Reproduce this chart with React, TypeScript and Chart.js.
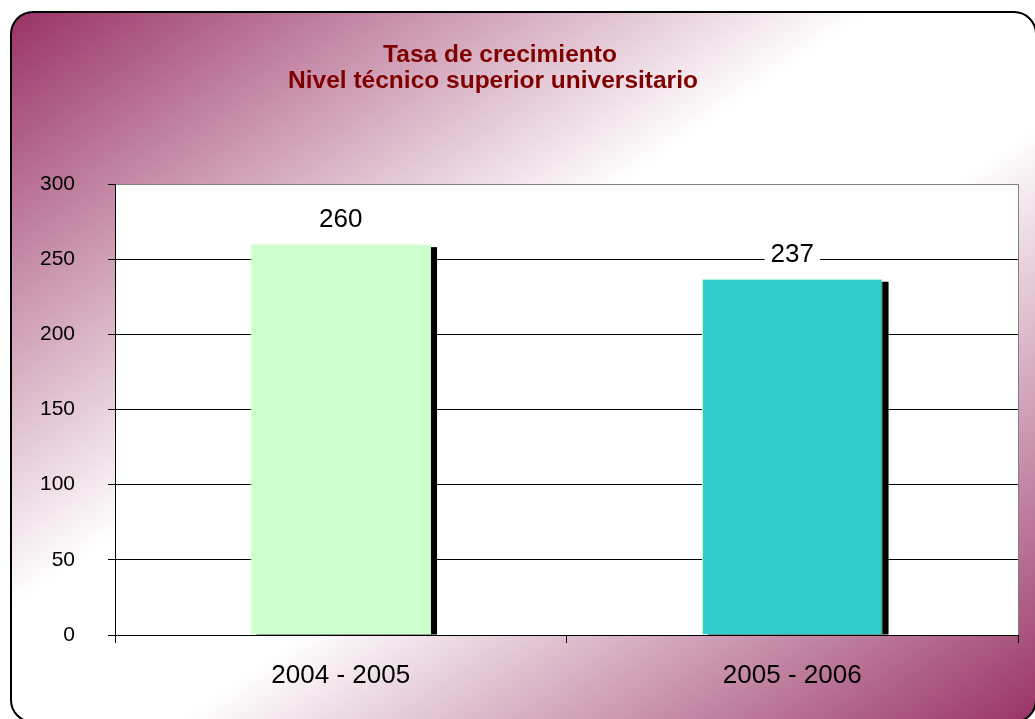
import React, { useEffect, useRef } from "react";
import { Chart, registerables } from "chart.js";

Chart.register(...registerables);

const categories = ["2004 - 2005", "2005 - 2006"];
const values = [260, 237];
const barColors = ["#CCFFCC", "#33CCCC"];
const barBorderColors = ["#CCFFCC", "#CCFFCC"];
const titleLines = ["Tasa de crecimiento", "Nivel técnico superior universitario"];
const yMin = 0;
const yMax = 300;
const yStep = 50;

const FONT = '"Liberation Sans", Arial, Helvetica, sans-serif';

const framePlugin = {
  id: "frame",
  beforeDraw(chart: any) {
    const { ctx, width, height, chartArea } = chart;
    ctx.save();
    ctx.fillStyle = "#ffffff";
    ctx.fillRect(0, 0, width, height);
    const x0 = 11, y0 = 12, x1 = 1036, y1 = 722, r = 22;
    const W = x1 - x0, H = y1 - y0;
    const k = 2 / (1 / (W * W) + 1 / (H * H));
    const g = ctx.createLinearGradient(x0, y0, x0 + k / W, y0 + k / H);
    g.addColorStop(0, "#993366");
    g.addColorStop(0.42, "#ffffff");
    g.addColorStop(0.58, "#ffffff");
    g.addColorStop(1, "#993366");
    ctx.beginPath();
    ctx.moveTo(x0 + r, y0);
    ctx.lineTo(x1 - r, y0);
    ctx.arcTo(x1, y0, x1, y0 + r, r);
    ctx.lineTo(x1, y1 - r);
    ctx.arcTo(x1, y1, x1 - r, y1, r);
    ctx.lineTo(x0 + r, y1);
    ctx.arcTo(x0, y1, x0, y1 - r, r);
    ctx.lineTo(x0, y0 + r);
    ctx.arcTo(x0, y0, x0 + r, y0, r);
    ctx.closePath();
    ctx.fillStyle = g;
    ctx.fill();
    ctx.lineWidth = 2;
    ctx.strokeStyle = "#000000";
    ctx.stroke();
    ctx.fillStyle = "#ffffff";
    ctx.fillRect(chartArea.left, chartArea.top, chartArea.right - chartArea.left, chartArea.bottom - chartArea.top);
    // title
    ctx.fillStyle = "#800000";
    ctx.font = `bold 24.5px ${FONT}`;
    ctx.textAlign = "center";
    ctx.textBaseline = "alphabetic";
    ctx.fillText(titleLines[0], 500, 62);
    ctx.fillText(titleLines[1], 493, 88);
    ctx.restore();
  },
  beforeDatasetsDraw(chart: any) {
    const { ctx, chartArea } = chart;
    const meta = chart.getDatasetMeta(0);
    ctx.save();
    ctx.beginPath();
    ctx.rect(chartArea.left, chartArea.top, chartArea.right - chartArea.left, chartArea.bottom - chartArea.top);
    ctx.clip();
    ctx.fillStyle = "#000000";
    meta.data.forEach((bar: any) => {
      const { x, y, base, width } = bar.getProps(["x", "y", "base", "width"], true);
      ctx.fillRect(x - width / 2 + 6, y + 3, width, base - y - 3);
    });
    ctx.restore();
  },
  afterDatasetsDraw(chart: any) {
    const { ctx, chartArea } = chart;
    const meta = chart.getDatasetMeta(0);
    ctx.save();
    ctx.strokeStyle = "#808080";
    ctx.lineWidth = 1;
    ctx.beginPath();
    ctx.moveTo(Math.round(chartArea.right) + 0.5, chartArea.top);
    ctx.lineTo(Math.round(chartArea.right) + 0.5, chartArea.bottom);
    ctx.stroke();
    ctx.font = `26px ${FONT}`;
    ctx.textAlign = "center";
    ctx.textBaseline = "alphabetic";
    meta.data.forEach((bar: any, i: number) => {
      const { x, y } = bar.getProps(["x", "y"], true);
      const txt = String(values[i]);
      const w = ctx.measureText(txt).width;
      const by = y - 17;
      ctx.fillStyle = "#ffffff";
      ctx.fillRect(x - w / 2 - 6, by - 24, w + 12, 29);
      ctx.fillStyle = "#000000";
      ctx.fillText(txt, x, by);
    });
    ctx.restore();
  },
};

export default function App() {
  const ref = useRef<HTMLCanvasElement | null>(null);
  useEffect(() => {
    if (!ref.current) return;
    const chart = new Chart(ref.current, {
      type: "bar",
      data: {
        labels: categories,
        datasets: [
          {
            data: values,
            backgroundColor: barColors,
            borderColor: barBorderColors,
            borderWidth: 1,
            barPercentage: 0.4,
            categoryPercentage: 1,
          },
        ],
      },
      options: {
        responsive: false,
        animation: false,
        devicePixelRatio: 1,
        layout: { padding: { left: 0, top: 184, right: 17, bottom: 0 } },
        plugins: {
          legend: { display: false },
          title: { display: false },
          tooltip: { enabled: false },
        },
        scales: {
          x: {
            grid: {
              drawOnChartArea: false,
              drawTicks: true,
              tickLength: 8,
              color: "#000000",
              offset: true,
            },
            border: { color: "#000000", width: 1 },
            ticks: {
              color: "#000000",
              font: { family: FONT, size: 26 },
              padding: 17,
              maxRotation: 0,
            },
            afterFit(scale: any) {
              scale.height = 84;
            },
          },
          y: {
            min: yMin,
            max: yMax,
            ticks: {
              stepSize: yStep,
              color: "#000000",
              font: { family: FONT, size: 21 },
              padding: 33,
            },
            grid: {
              color: (c: any) => (c.tick && c.tick.value === yMax ? "#808080" : "#000000"),
              tickColor: "#000000",
              tickLength: 7,
              lineWidth: 1,
            },
            border: { color: "#000000", width: 1 },
            afterFit(scale: any) {
              scale.width = 115;
            },
          },
        },
      },
      plugins: [framePlugin],
    });
    return () => chart.destroy();
  }, []);
  return (
    <div style={{ position: "fixed", left: 0, top: 0, width: 1035, height: 719 }}>
      <canvas ref={ref} width={1035} height={719} style={{ display: "block", width: 1035, height: 719 }} />
    </div>
  );
}
